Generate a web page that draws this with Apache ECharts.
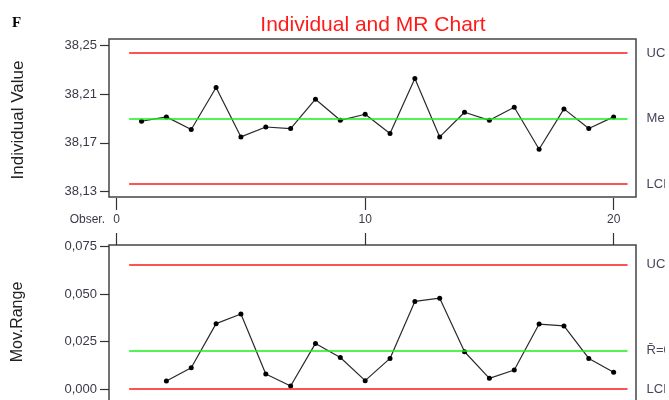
<!DOCTYPE html>
<html>
<head>
<meta charset="utf-8">
<script src="https://cdn.jsdelivr.net/npm/echarts@6/dist/echarts.min.js"></script>
<style>
  html, body { margin: 0; padding: 0; background: #ffffff; }
  #chart { width: 665px; height: 400px; }
</style>
</head>
<body>
<div id="chart"></div>
<script>
// Observation numbers and the measured individual values
const observations = [1, 2, 3, 4, 5, 6, 7, 8, 9, 10, 11, 12, 13, 14, 15, 16, 17, 18, 19, 20];
const individualValues = [38.1877, 38.1913, 38.1809, 38.2155, 38.1748, 38.1830, 38.1817, 38.2059, 38.1885, 38.1935,
                          38.1776, 38.2230, 38.1748, 38.1951, 38.1885, 38.1993, 38.1646, 38.1979, 38.1817, 38.1913];
// Moving ranges (first observation has none)
const movingRanges = [null, 0.0042, 0.0112, 0.0344, 0.0395, 0.0079, 0.0016, 0.0240, 0.0166, 0.0044,
                      0.0161, 0.0461, 0.0478, 0.0196, 0.0056, 0.0100, 0.0342, 0.0332, 0.0161, 0.0088];

// Control limits
const individualLimitNames = ['UCL', 'Mean', 'LCL'];
const individualLimitValues = [38.244, 38.190, 38.136];
const individualLimitDigits = [3, 2, 3];
const rangeLimitNames = ['UCL', 'R\u0304', 'LCL'];
const rangeLimitValues = [0.0656, 0.0201, 0];
const rangeLimitDigits = [4, 4, 3];

// Tick labels
const individualTicks = [38.13, 38.17, 38.21, 38.25];
const rangeTicks = [0, 0.025, 0.050, 0.075];
const observationTicks = [0, 10, 20];

const RED = '#ff1a1a';
const GREEN = '#19f019';
const LIMIT_FROM = 0.5;
const LIMIT_TO = 20.56;
const limitColors = [RED, GREEN, RED];

const comma = (v, d) => v.toFixed(d).replace('.', ',');

function limitLines(names, values, digits) {
  return values.map((v, i) => [
    {
      coord: [LIMIT_FROM, v],
      lineStyle: { color: limitColors[i], width: 1.5, type: 'solid' },
      label: { formatter: names[i] + '=' + comma(v, digits[i]) }
    },
    { coord: [LIMIT_TO, v] }
  ]);
}

const markLineBase = {
  symbol: ['none', 'none'],
  silent: true,
  animation: false,
  label: {
    show: true,
    position: 'end',
    distance: 19,
    color: '#4a4458',
    fontFamily: 'Liberation Sans',
    fontSize: 13
  }
};

// Framed plot areas; the lower one runs past the bottom edge of the page
const frame = { show: true, borderColor: '#444', borderWidth: 1.5, backgroundColor: '#fff', outerBoundsMode: 'none', containLabel: false };
const tickLabelFont = { fontFamily: 'Liberation Sans', color: '#3a3a48' };

const chart = echarts.init(document.getElementById('chart'), null, { renderer: 'canvas' });

chart.setOption({
  animation: false,
  backgroundColor: '#ffffff',
  grid: [
    Object.assign({ left: 109, top: 39, width: 527, height: 158 }, frame),
    Object.assign({ left: 109, top: 245, width: 527, height: 182 }, frame)
  ],
  xAxis: [
    {
      gridIndex: 0, type: 'value', position: 'bottom', offset: 1,
      min: -0.31, max: 20.9,
      axisLine: { show: false, onZero: false },
      axisTick: { show: true, length: 12, customValues: observationTicks, lineStyle: { color: '#333', width: 1.2 } },
      axisLabel: Object.assign({ show: true, margin: 16, fontSize: 12, customValues: observationTicks }, tickLabelFont),
      splitLine: { show: false }
    },
    {
      gridIndex: 1, type: 'value', position: 'top', offset: 0,
      min: -0.31, max: 20.9,
      axisLine: { show: false, onZero: false },
      axisTick: { show: true, length: 12, customValues: observationTicks, lineStyle: { color: '#333', width: 1.2 } },
      axisLabel: { show: false },
      splitLine: { show: false }
    }
  ],
  yAxis: [
    {
      gridIndex: 0, type: 'value', position: 'left',
      min: 38.1253, max: 38.2555,
      axisLine: { show: false, onZero: false },
      axisTick: { show: true, length: 9, customValues: individualTicks, lineStyle: { color: '#333', width: 1.2 } },
      axisLabel: Object.assign({ show: true, margin: 12, fontSize: 13, customValues: individualTicks,
        formatter: v => comma(v, 2) }, tickLabelFont),
      splitLine: { show: false }
    },
    {
      gridIndex: 1, type: 'value', position: 'left',
      min: -0.02, max: 0.0758,
      axisLine: { show: false, onZero: false },
      axisTick: { show: true, length: 9, customValues: rangeTicks, lineStyle: { color: '#333', width: 1.2 } },
      axisLabel: Object.assign({ show: true, margin: 12, fontSize: 13, customValues: rangeTicks,
        formatter: v => comma(v, 3) }, tickLabelFont),
      splitLine: { show: false }
    }
  ],
  series: [
    {
      name: 'Individual Value', type: 'line',
      xAxisIndex: 0, yAxisIndex: 0,
      data: observations.map((x, i) => [x, individualValues[i]]),
      symbol: 'circle', symbolSize: 5,
      itemStyle: { color: '#000' },
      lineStyle: { color: '#2a2a2a', width: 1.2 },
      z: 3,
      markLine: Object.assign({ data: limitLines(individualLimitNames, individualLimitValues, individualLimitDigits) }, markLineBase)
    },
    {
      name: 'Mov.Range', type: 'line',
      xAxisIndex: 1, yAxisIndex: 1,
      data: observations.map((x, i) => [x, movingRanges[i]]).filter(p => p[1] !== null),
      symbol: 'circle', symbolSize: 5,
      itemStyle: { color: '#000' },
      lineStyle: { color: '#2a2a2a', width: 1.2 },
      z: 3,
      markLine: Object.assign({ data: limitLines(rangeLimitNames, rangeLimitValues, rangeLimitDigits) }, markLineBase)
    }
  ],
  graphic: [
    {
      type: 'text', x: 12, y: 23,
      style: { text: 'F', font: 'bold 15px "Liberation Serif"', fill: '#000', align: 'left', verticalAlign: 'middle' }
    },
    {
      type: 'text', x: 373, y: 25,
      style: { text: 'Individual and MR Chart', font: '21px "Liberation Sans"', fill: RED, align: 'center', verticalAlign: 'middle' }
    },
    {
      type: 'text', x: 18, y: 120, rotation: Math.PI / 2,
      style: { text: 'Individual Value', font: '17px "Liberation Sans"', fill: '#222', align: 'center', verticalAlign: 'middle' }
    },
    {
      type: 'text', x: 18, y: 322, rotation: Math.PI / 2,
      style: { text: 'Mov.Range', font: '16px "Liberation Sans"', fill: '#222', align: 'center', verticalAlign: 'middle' }
    },
    {
      type: 'text', x: 105, y: 220,
      style: { text: 'Obser.', font: '12px "Liberation Sans"', fill: '#3a3a48', align: 'right', verticalAlign: 'middle' }
    }
  ]
});
</script>
</body>
</html>
